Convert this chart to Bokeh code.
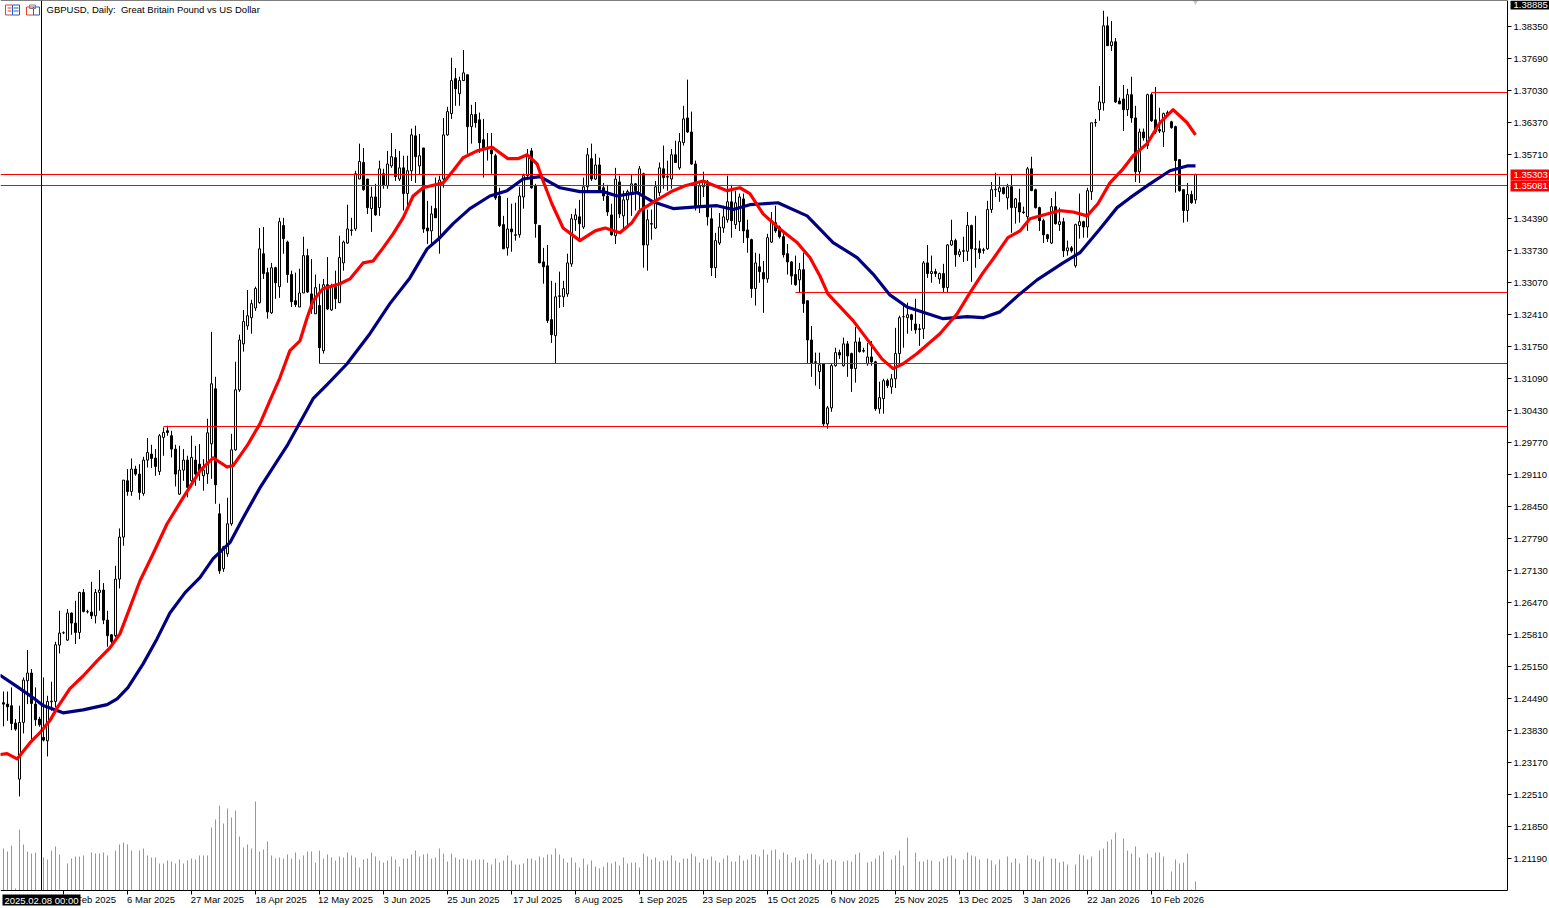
from bokeh.plotting import figure
from bokeh.embed import file_html
from bokeh.resources import INLINE
from bokeh.models import (Range1d, LinearAxis, FixedTicker, NumeralTickFormatter, Label,
                          BoxAnnotation)

title_text = "GBPUSD, Daily:\u00a0 Great Britain Pound vs US Dollar"

opens = [
1.24408,1.2438,1.24346,1.23988,1.22833,1.24002,1.24861,1.2502,1.2438,1.24071,
1.23693,1.23624,1.24428,1.24435,1.25597,1.25852,1.257,1.26257,1.26051,1.25858,
1.26683,1.26285,1.26278,1.26202,1.26683,1.26731,1.26113,1.2581,1.2579,1.26958,
1.27825,1.28986,1.28766,1.29227,1.29124,1.28725,1.29413,1.29536,1.29454,1.29179,
1.2988,1.30018,1.29915,1.2964,1.28711,1.29206,1.29413,1.28986,1.29413,1.2933,
1.2909,1.2913,1.29749,1.30883,1.28305,1.27171,1.2748,1.28099,1.29625,
1.3086,1.3181,1.3218,1.3235,1.3255,1.3266,1.3367,1.3328,1.3245,1.3338,
1.3299,1.3425,1.3391,1.3324,1.3270,1.3257,1.3286,1.3363,1.3284,1.3243,
1.3260,1.3167,1.3303,1.3251,1.3299,1.3266,1.3348,1.3389,1.3416,1.3418,
1.3521,1.3555,1.3521,1.3460,1.3484,1.3462,1.3532,1.3507,1.3548,1.3565,
1.3521,1.3544,1.3491,1.3538,1.3610,1.3548,1.3585,1.3420,1.3414,1.3460,
1.3400,1.3521,1.3612,1.3656,1.3728,1.3697,1.3724,1.3736,1.3629,1.3654,
1.3643,1.3602,1.3585,1.3581,1.3569,1.3486,1.3427,1.3379,1.3418,1.3406,
1.3406,1.3484,1.3528,1.3579,1.3507,1.3425,1.3350,1.3342,1.3231,1.3198,
1.3280,1.3278,1.3284,1.3346,1.3437,1.3443,1.3422,1.3505,1.3563,1.3521,
1.3550,1.3503,1.3486,1.3447,1.3404,1.3515,1.3445,1.3478,1.3493,1.3511,
1.3493,1.3532,1.3385,1.3429,1.3420,1.3493,1.3542,1.3526,1.3521,1.3571,
1.3544,1.3596,1.3647,1.3618,1.3552,1.3466,1.3505,1.3515,1.3439,1.3338,
1.3389,1.3420,1.3437,1.3474,1.3427,1.3433,1.3480,1.3416,1.3396,1.3295,
1.3340,1.3328,1.3315,1.3391,1.3431,1.3422,1.3402,1.3367,1.3350,1.3324,
1.3313,1.3334,1.3270,1.3189,1.3144,1.3124,1.3140,1.3016,1.3049,1.3136,
1.3163,1.3136,1.3181,1.3161,1.3130,1.3185,1.3167,1.3140,1.3154,1.3144,
1.3047,1.3068,1.3105,1.3092,1.3109,1.3161,1.3237,1.3235,1.3241,1.3222,
1.3212,1.3212,1.3348,1.3326,1.3330,1.3315,1.3326,1.3297,1.3385,1.3394,
1.3365,1.3373,1.3372,1.3425,1.3377,1.3377,1.3375,1.3377,1.3458,1.3499,
1.3495,1.3503,1.3482,1.3505,1.3462,1.3472,1.3453,1.3443,1.3542,1.3499,
1.3462,1.3435,1.3406,1.3389,1.3464,1.3427,1.3433,1.3373,1.3379,1.3342,
1.3425,1.3433,1.3422,1.3495,1.3637,1.3664,1.3678,1.3837,1.3796,1.3804,
1.3682,1.3686,1.3664,1.3695,1.3647,1.3536,1.3618,1.3590,1.3695,1.3643,
1.3623,1.3618,1.3654,1.3639,1.3629,1.3561,1.3499,1.3456,1.3489,1.3478]

highs = [
1.24641,1.2464,1.24724,1.24071,1.24346,1.2493,1.25494,1.25102,1.24724,1.24119,
1.2493,1.24552,1.24841,1.25666,1.26305,1.25879,1.2634,1.26271,1.26511,1.26697,
1.26752,1.26326,1.26903,1.26752,1.27144,1.26876,1.26305,1.25824,1.27233,1.28003,
1.29,1.29227,1.29447,1.29296,1.2933,1.29481,1.29866,1.29729,1.2964,1.29949,
1.30086,1.30121,1.30018,1.29729,1.29708,1.2964,1.29502,1.29915,1.29708,1.29743,
1.29433,1.30265,1.32059,1.31131,1.28512,1.27645,1.28635,1.29955,1.3144,
1.3200,1.3251,1.3292,1.3272,1.3299,1.3420,1.3422,1.3338,1.3348,1.3340,
1.3441,1.3441,1.3394,1.3332,1.3328,1.3336,1.3402,1.3377,1.3356,1.3324,
1.3305,1.3315,1.3360,1.3305,1.3332,1.3404,1.3394,1.3468,1.3441,1.3538,
1.3594,1.3585,1.3521,1.3505,1.3511,1.3559,1.3542,1.3579,1.3616,1.3583,
1.3579,1.3569,1.3569,1.3625,1.3631,1.3614,1.3585,1.3476,1.3466,1.3524,
1.3528,1.3647,1.3670,1.3771,1.3750,1.3732,1.3787,1.3736,1.3674,1.3680,
1.3658,1.3645,1.3616,1.3616,1.3573,1.3503,1.3445,1.3482,1.3470,1.3472,
1.3505,1.3532,1.3583,1.3585,1.3511,1.3425,1.3379,1.3385,1.3311,1.3307,
1.3330,1.3311,1.3367,1.3449,1.3460,1.3478,1.3524,1.3585,1.3594,1.3573,
1.3565,1.3513,1.3509,1.3470,1.3544,1.3528,1.3497,1.3499,1.3530,1.3513,
1.3548,1.3534,1.3458,1.3458,1.3517,1.3555,1.3590,1.3559,1.3583,1.3600,
1.3616,1.3672,1.3726,1.3660,1.3559,1.3513,1.3536,1.3519,1.3462,1.3410,
1.3451,1.3466,1.3528,1.3509,1.3497,1.3491,1.3491,1.3437,1.3398,1.3369,
1.3367,1.3352,1.3408,1.3453,1.3466,1.3425,1.3416,1.3387,1.3352,1.3363,
1.3348,1.3369,1.3270,1.3218,1.3163,1.3163,1.3140,1.3053,1.3140,1.3173,
1.3169,1.3194,1.3187,1.3163,1.3216,1.3194,1.3173,1.3183,1.3187,1.3146,
1.3103,1.3109,1.3109,1.3119,1.3214,1.3239,1.3260,1.3266,1.3243,1.3274,
1.3222,1.3352,1.3385,1.3363,1.3336,1.3328,1.3346,1.3387,1.3437,1.3398,
1.3377,1.3402,1.3453,1.3427,1.3445,1.3394,1.3379,1.3476,1.3515,1.3534,
1.3526,1.3505,1.3511,1.3530,1.3482,1.3501,1.3464,1.3546,1.3567,1.3501,
1.3464,1.3439,1.3408,1.3482,1.3495,1.3462,1.3441,1.3394,1.3383,1.3429,
1.3491,1.3435,1.3503,1.3637,1.3645,1.3713,1.3868,1.3856,1.3847,1.3812,
1.3689,1.3715,1.3707,1.3732,1.3672,1.3625,1.3625,1.3697,1.3699,1.3711,
1.3668,1.3658,1.3662,1.3641,1.3631,1.3561,1.3499,1.3513,1.3497,1.3532]

lows = [
1.2392,1.24036,1.23844,1.2383,1.22476,1.23775,1.2438,1.23638,1.23933,1.23913,
1.2361,1.23301,1.24243,1.24311,1.25425,1.25824,1.25686,1.2581,1.25618,1.25721,
1.26271,1.2625,1.26133,1.26044,1.26305,1.2603,1.25563,1.25631,1.25755,1.26766,
1.27646,1.28677,1.28677,1.2909,1.28595,1.28677,1.29261,1.29248,1.2909,1.29103,
1.29502,1.29915,1.29468,1.2887,1.28698,1.28986,1.28643,1.28849,1.28883,1.28986,
1.2878,1.28924,1.29027,1.28512,1.27068,1.27109,1.27418,1.28058,1.29605,
1.3082,1.3165,1.3210,1.3202,1.3249,1.3264,1.3315,1.3233,1.3243,1.3274,
1.3276,1.3367,1.3307,1.3257,1.3257,1.3257,1.3286,1.3286,1.3243,1.3243,
1.3140,1.3161,1.3251,1.3249,1.3253,1.3266,1.3332,1.3387,1.3404,1.3414,
1.3521,1.3497,1.3449,1.3412,1.3445,1.3445,1.3501,1.3501,1.3544,1.3517,
1.3517,1.3456,1.3462,1.3517,1.3513,1.3530,1.3410,1.3387,1.3387,1.3441,
1.3367,1.3503,1.3610,1.3645,1.3672,1.3672,1.3724,1.3573,1.3594,1.3627,
1.3575,1.3524,1.3559,1.3532,1.3478,1.3422,1.3377,1.3363,1.3371,1.3394,
1.3400,1.3460,1.3524,1.3501,1.3400,1.3348,1.3305,1.3224,1.3183,1.3140,
1.3255,1.3257,1.3278,1.3340,1.3414,1.3394,1.3418,1.3497,1.3517,1.3519,
1.3497,1.3476,1.3445,1.3404,1.3387,1.3441,1.3418,1.3425,1.3445,1.3456,
1.3456,1.3338,1.3332,1.3396,1.3418,1.3486,1.3501,1.3497,1.3501,1.3555,
1.3540,1.3590,1.3616,1.3550,1.3456,1.3451,1.3484,1.3425,1.3321,1.3317,
1.3385,1.3410,1.3431,1.3400,1.3418,1.3414,1.3389,1.3369,1.3276,1.3260,
1.3307,1.3245,1.3307,1.3389,1.3410,1.3398,1.3359,1.3324,1.3303,1.3301,
1.3286,1.3245,1.3140,1.3113,1.3095,1.3088,1.3010,1.3006,1.3041,1.3134,
1.3150,1.3134,1.3113,1.3082,1.3101,1.3163,1.3163,1.3136,1.3136,1.3043,
1.3037,1.3037,1.3090,1.3078,1.3090,1.3140,1.3173,1.3202,1.3208,1.3202,
1.3177,1.3191,1.3317,1.3307,1.3319,1.3305,1.3286,1.3286,1.3383,1.3340,
1.3360,1.3350,1.3352,1.3309,1.3338,1.3356,1.3367,1.3375,1.3451,1.3484,
1.3474,1.3489,1.3458,1.3410,1.3429,1.3431,1.3449,1.3414,1.3497,1.3460,
1.3414,1.3389,1.3391,1.3387,1.3427,1.3414,1.3360,1.3363,1.3369,1.3338,
1.3398,1.3400,1.3400,1.3478,1.3629,1.3641,1.3662,1.3796,1.3785,1.3678,
1.3676,1.3620,1.3651,1.3637,1.3515,1.3513,1.3600,1.3583,1.3639,1.3614,
1.3616,1.3587,1.3651,1.3625,1.3493,1.3495,1.3431,1.3433,1.3470,1.3470]

closes = [
1.2438,1.24325,1.23981,1.23865,1.24002,1.24875,1.2502,1.24394,1.24057,1.23954,
1.23638,1.24435,1.24442,1.25604,1.25845,1.25852,1.26257,1.26051,1.25858,1.26683,
1.26291,1.26285,1.26202,1.26683,1.26731,1.26113,1.2579,1.25673,1.26958,1.27825,
1.29,1.28766,1.29227,1.29124,1.28746,1.29413,1.29571,1.29447,1.29282,1.29915,
1.29983,1.29983,1.2964,1.29124,1.29206,1.29413,1.28849,1.29468,1.29124,1.29193,
1.29206,1.29976,1.30987,1.28903,1.2713,1.27625,1.28099,1.29625,1.30863,
1.3189,1.3227,1.3239,1.3264,1.3295,1.3377,1.3326,1.3247,1.3338,1.3307,
1.3433,1.3398,1.3324,1.3268,1.3262,1.3286,1.3363,1.3288,1.3253,1.3297,
1.3173,1.3303,1.3253,1.3297,1.3274,1.3359,1.3391,1.3418,1.3415,1.3532,
1.3557,1.3499,1.3462,1.3484,1.3447,1.3542,1.3509,1.3552,1.3567,1.3526,
1.3544,1.3491,1.3538,1.3612,1.3567,1.3569,1.3418,1.3414,1.3449,1.3441,
1.3519,1.3612,1.3660,1.3724,1.3707,1.3724,1.3740,1.3629,1.3654,1.3637,
1.3596,1.3585,1.3583,1.3573,1.3482,1.3425,1.3377,1.3418,1.3412,1.3405,
1.3486,1.3528,1.3569,1.3503,1.3429,1.3348,1.3340,1.3229,1.3200,1.3278,
1.3279,1.3295,1.3348,1.3439,1.3447,1.3429,1.3505,1.3571,1.3521,1.3550,
1.3499,1.3486,1.3453,1.3406,1.3521,1.3449,1.3478,1.3495,1.3511,1.3497,
1.3542,1.3385,1.3437,1.3428,1.3505,1.3544,1.3524,1.3525,1.3571,1.3555,
1.3598,1.3645,1.3618,1.3552,1.3466,1.3507,1.3517,1.3443,1.3338,1.3394,
1.3422,1.3443,1.3474,1.3435,1.3472,1.3484,1.3414,1.3400,1.3295,1.3348,
1.3330,1.3315,1.3400,1.3435,1.3414,1.3402,1.3365,1.3350,1.3321,1.3303,
1.3334,1.3264,1.3189,1.3142,1.3143,1.3138,1.3016,1.3049,1.3136,1.3163,
1.3158,1.3181,1.3156,1.3130,1.3185,1.3165,1.3166,1.3154,1.3144,1.3047,
1.3070,1.3105,1.3095,1.3109,1.3161,1.3235,1.3237,1.3241,1.3231,1.3210,
1.3211,1.3348,1.3326,1.3330,1.3326,1.3326,1.3297,1.3385,1.3394,1.3365,
1.3371,1.3372,1.3425,1.3377,1.3376,1.3369,1.3374,1.3458,1.3499,1.3500,
1.3503,1.3491,1.3505,1.3462,1.3480,1.3453,1.3452,1.3542,1.3497,1.3462,
1.3435,1.3406,1.3398,1.3464,1.3429,1.3433,1.3373,1.3379,1.3373,1.3427,
1.3433,1.3422,1.3497,1.3637,1.3638,1.3680,1.3837,1.3796,1.3804,1.3680,
1.3676,1.3664,1.3695,1.3647,1.3536,1.3618,1.3606,1.3695,1.3641,1.3618,
1.3620,1.3656,1.3658,1.3627,1.3559,1.3497,1.3456,1.3489,1.3472,1.3530]

tick_volume_k = [
42,39,45,2,61,46,39,37,38,0,33,31,40,44,36,0,27,32,34,34,
35,0,38,37,37,38,35,0,40,46,48,46,40,0,40,42,35,33,33,27,
27,30,29,27,31,27,30,32,31,35,35,35,63,71,85,67,82,73,80,54,
43,46,42,89,39,41,49,35,32,33,32,36,32,38,31,35,39,39,28,40,
32,36,33,30,34,33,38,35,33,23,31,32,38,34,30,28,30,34,31,24,
32,32,36,40,34,36,37,32,33,42,37,29,37,33,31,32,31,30,31,31,
31,28,26,32,28,30,35,30,26,26,27,32,32,30,34,33,36,36,42,36,
32,28,33,28,23,32,26,30,24,22,24,28,27,29,25,33,27,28,28,23,
37,34,31,33,29,30,30,35,30,28,32,32,37,34,28,32,31,34,30,28,
32,35,29,29,35,30,31,36,36,34,41,36,40,41,31,38,36,28,33,30,
31,37,37,31,26,31,28,31,30,0,29,30,29,36,38,0,28,29,32,35,
39,1,31,35,40,25,53,1,38,29,29,31,30,1,29,32,34,35,32,0,
31,38,35,34,31,0,32,30,26,31,1,34,28,32,27,0,35,32,31,29,
34,0,32,32,28,29,26,0,26,36,35,31,34,1,40,42,49,51,58,1,
52,40,37,44,33,0,37,33,38,38,34,1,19,31,27,28,37,1,9]

fast_idx = [-0.9,0.9,3.4,6.6,9.1,11.6,13.4,16.6,19.9,23.4,26.6,29.1,31.6,34.1,37.4,40.9,44.1,49.1,52.4,55.9,57.4,
60.9,64.1,66.6,69.1,71.6,74.1,75.9,77.4,79.9,84.1,86.6,89.9,92.4,94.9,97.4,99.9,102.4,104.9,109.9,112.4,114.9,118.4,
122.1,126.1,128.6,130.9,133.4,134.9,137.1,139.9,144.1,147.9,150.4,154.1,157.1,159.1,163.4,167.4,170.4,174.9,180.9,
184.1,186.6,189.9,194.1,198.4,201.6,204.1,206.1,212.4,216.6,219.6,222.4,224.9,228.4,234.1,238.4,241.6,244.9,247.4,
251.1,254.1,256.6,260.9,264.1,267.4,270.9,273.6,276.6,279.9,282.4,285.9,289.1,292.4,295.9,298]
fast_ma = [1.2334,1.2336,1.2325,1.2358,1.2379,1.2404,1.2430,1.2470,1.2496,1.2527,1.2554,1.2583,1.2637,1.2692,1.2748,1.2810,1.2853,1.2919,1.2946,1.2927,1.2930,
1.2971,1.3016,1.3064,1.3111,1.3167,1.3187,1.3235,1.3270,1.3295,1.3305,1.3315,1.3348,1.3352,1.3379,1.3408,1.3441,1.3486,1.3503,1.3513,1.3538,1.3565,1.3579,
1.3587,1.3563,1.3563,1.3571,1.3552,1.3517,1.3470,1.3420,1.3394,1.3414,1.3420,1.3410,1.3431,1.3456,1.3478,1.3497,1.3507,1.3517,1.3497,
1.3503,1.3491,1.3449,1.3418,1.3390,1.3359,1.3321,1.3284,1.3229,1.3183,1.3150,1.3130,1.3140,1.3161,1.3202,1.3243,1.3286,1.3328,1.3356,
1.3400,1.3414,1.3439,1.3449,1.3456,1.3453,1.3445,1.3470,1.3513,1.3542,1.3569,1.3594,1.3637,1.3664,1.3637,1.3612]

slow_idx = [-0.9,3.4,7.4,9.9,14.9,19.9,25.9,28.4,31.1,34.9,38.4,41.6,45.4,49.1,52.4,56.6,59.9,64.1,70.9,77.4,80.9,85.9,
91.6,96.6,101.6,105.9,109.1,112.4,116.6,121.6,125.9,129.9,134.1,139.1,144.1,149.9,153.4,158.4,162.4,167.4,174.1,178.4,
182.4,186.6,193.6,200.9,207.4,213.4,217.4,221.6,225.9,234.9,240.9,244.9,249.1,254.1,258.4,264.9,269.1,274.1,278.4,
281.6,286.6,291.6,295.9,298]
slow_ma = [1.2498,1.2474,1.2451,1.2435,1.2420,1.2426,1.2437,1.2449,1.2472,1.2521,1.2573,1.2626,1.2668,1.2699,1.2738,1.2771,1.2822,1.2884,1.2971,1.3068,1.3097,1.3140,
1.3202,1.3264,1.3317,1.3377,1.3400,1.3429,1.3460,1.3486,1.3497,1.3521,1.3526,1.3503,1.3495,1.3495,1.3486,1.3493,1.3474,1.3460,1.3464,1.3466,
1.3458,1.3468,1.3472,1.3445,1.3390,1.3359,1.3325,1.3282,1.3257,1.3233,1.3237,1.3235,1.3247,1.3284,1.3313,1.3348,1.3369,1.3418,1.3462,
1.3482,1.3511,1.3538,1.3548,1.3548]

level_start = [-0.75,-0.75,40,79,198,287]
level_price = [1.35303,1.35076,1.30106,1.31405,1.32870,1.36995]

price_ticks = [1.38350,1.37690,1.37030,1.36370,1.35710,1.34390,1.33730,1.33070,1.32410,1.31750,1.31090,1.30430,
               1.29770,1.29110,1.28450,1.27790,1.27130,1.26470,1.25810,1.25150,1.24490,1.23830,1.23170,1.22510,
               1.21850,1.21190]
date_idx = [15,31,47,63,79,95,111,127,143,159,175,191,207,223,239,255,271,287]
date_labels = ["13 Feb 2025","6 Mar 2025","27 Mar 2025","18 Apr 2025","12 May 2025","3 Jun 2025","25 Jun 2025",
               "17 Jul 2025","8 Aug 2025","1 Sep 2025","23 Sep 2025","15 Oct 2025","6 Nov 2025","25 Nov 2025",
               "13 Dec 2025","3 Jan 2026","22 Jan 2026","10 Feb 2026"]

FONT = "Liberation Sans"
FS = "9.5px"

def sx(px):
    return (px - 3.0) / 4
def sy(py):
    return 1.38892 - py * 0.00020625

x_start, x_end = sx(0), sx(1507)
p = figure(width=1549, height=908, output_backend="svg", toolbar_location=None,
           x_range=Range1d(sx(0), sx(1549)), y_range=Range1d(sy(908), sy(0)),
           x_axis_type=None, y_axis_type=None,
           min_border_left=0, min_border_right=0, min_border_top=0, min_border_bottom=0,
           background_fill_color="white", border_fill_color="white", outline_line_color=None)
p.grid.visible = False
p.extra_y_ranges = {"vol": Range1d(-18, 890)}

idx = list(range(len(closes)))
p.segment(x0=idx, x1=idx, y0=[0]*len(idx), y1=tick_volume_k, y_range_name="vol", line_color="#D06FD0", line_width=1)
p.segment(x0=idx, x1=idx, y0=lows, y1=highs, line_color="black", line_width=1)
fills = ["white" if c >= o else "black" for o, c in zip(opens, closes)]
p.vbar(x=idx, width=0.5, top=[max(a, b) for a, b in zip(opens, closes)],
       bottom=[min(a, b) for a, b in zip(opens, closes)],
       fill_color=fills, line_color="black", line_width=1)
p.segment(x0=level_start, x1=[x_end]*len(level_start), y0=level_price, y1=level_price, line_color="red", line_width=1)
p.line(slow_idx, slow_ma, line_color="#000080", line_width=3.2, line_join="round")
p.line(fast_idx, fast_ma, line_color="red", line_width=3.2, line_join="round")
p.scatter([298], [sy(1)], marker="inverted_triangle", size=6, fill_color="#C8C8C8", line_color=None)
# crosshair and top border of the pane
p.segment(x0=[9.5, x_start], x1=[9.5, x_end], y0=[sy(0), sy(0)], y1=[sy(890), sy(0)], line_color="black", line_width=1)

label_centre = [i + len(s) * 0.59 for i, s in zip(date_idx, date_labels)]
xaxis = LinearAxis(ticker=FixedTicker(ticks=label_centre, minor_ticks=date_idx), fixed_location=sy(890),
                   bounds=(x_start, x_end),
                   major_label_overrides={c: s for c, s in zip(label_centre, date_labels)},
                   major_tick_line_color=None, minor_tick_in=0, minor_tick_out=4, major_tick_out=0, major_tick_in=0,
                   minor_tick_line_color="black", axis_line_color="black", major_label_standoff=-1,
                   major_label_text_font=FONT, major_label_text_font_size=FS, major_label_text_color="black")
p.add_layout(xaxis, "below")
yaxis = LinearAxis(ticker=FixedTicker(ticks=price_ticks), formatter=NumeralTickFormatter(format="0.00000"),
                   fixed_location=x_end, bounds=(sy(890), sy(0)),
                   major_tick_in=0, major_tick_out=4, minor_tick_line_color=None, axis_line_color="black",
                   major_tick_line_color="black", major_label_standoff=2,
                   major_label_text_font=FONT, major_label_text_font_size=FS, major_label_text_color="black")
p.add_layout(yaxis, "right")

def box(x0, x1, y0, y1, fill=None, line=None):
    p.add_layout(BoxAnnotation(left=sx(x0), right=sx(x1), top=sy(y0), bottom=sy(y1),
                               fill_color=fill, fill_alpha=1 if fill else 0,
                               line_color=line, line_alpha=1 if line else 0, line_width=1, level="overlay"))

def text(x, y, s, color="black"):
    p.add_layout(Label(x=sx(x), y=sy(y), text=s, text_color=color, text_font=FONT, text_font_size=FS,
                       text_baseline="middle", text_align="left", level="overlay"))

# price tags, date tag and title
box(1510, 1549, 0, 9, fill="black")
text(1513, 4.5, "1.38885", "white")
box(1510, 1549, 169, 180, fill="red")
text(1513, 174.5, "1.35303", "white")
box(1510, 1549, 180, 191, fill="red")
text(1513, 185.5, "1.35081", "white")
box(2, 80, 894, 905, fill="black")
text(4, 899.5, "2025.02.08 00:00", "white")
text(46, 9, title_text)
# the two toolbar icons
box(5, 12, 4.5, 14.5, line="#E04030")
box(12, 19, 4.5, 14.5, line="#2060C0")
box(7, 11, 7, 8, fill="#E04030")
box(7, 11, 10, 11, fill="#E04030")
box(13, 18, 7, 8, fill="#2060C0")
box(13, 18, 10, 11, fill="#2060C0")
box(26, 33, 6.5, 14.5, line="#E04030")
box(33, 39, 6.5, 14.5, line="#2060C0")
box(29, 35, 4.5, 8, line="#808080")

open("out.html", "w").write(file_html(p, INLINE))
